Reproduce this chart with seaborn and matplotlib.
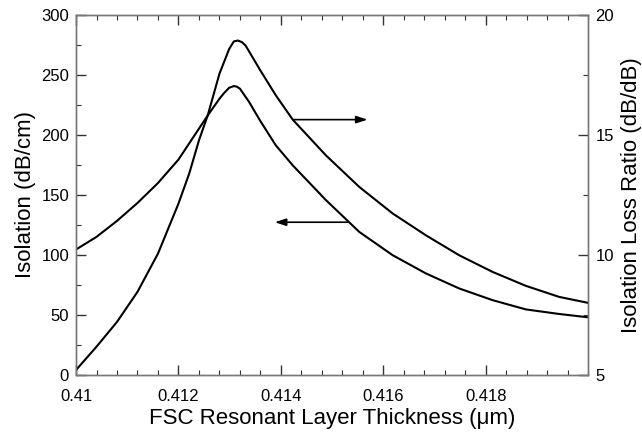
import matplotlib
matplotlib.use("Agg")
import matplotlib.pyplot as plt
import seaborn as sns
import pandas as pd
from matplotlib.ticker import FixedLocator, MultipleLocator

# ---- data ----
iso_x = [0.4100, 0.4104, 0.4108, 0.4112, 0.4116, 0.4120, 0.4124, 0.41257,
         0.4128, 0.41289, 0.41299, 0.41308, 0.41314, 0.4132, 0.41338, 0.41359,
         0.4139, 0.41423, 0.41488, 0.41553, 0.41618, 0.41683, 0.41748, 0.41813,
         0.41878, 0.41943, 0.4200]
iso_y = [104.6, 115.1, 128.4, 143.3, 159.9, 179.4, 205.1, 216.0,
         230.0, 234.7, 239.1, 240.5, 240.0, 238.3, 227.2, 212.0,
         191.2, 174.6, 145.6, 119.2, 99.9, 84.7, 72.2, 62.5,
         54.8, 51.0, 48.2]

ratio_x = [0.4100, 0.4104, 0.4108, 0.4112, 0.4116, 0.4120, 0.41221, 0.4124,
           0.41257, 0.4128, 0.41299, 0.41308, 0.41316, 0.41324, 0.41331, 0.4136,
           0.4139, 0.41423, 0.41488, 0.41553, 0.41618, 0.41683, 0.41748, 0.41813,
           0.41878, 0.41943, 0.4200]
ratio_y = [5.22, 6.19, 7.22, 8.47, 10.06, 12.14, 13.39, 14.77,
           15.80, 17.54, 18.57, 18.88, 18.92, 18.85, 18.71, 17.67,
           16.64, 15.63, 14.14, 12.83, 11.73, 10.82, 9.99, 9.30,
           8.72, 8.26, 8.01]

x_major = [0.410, 0.412, 0.414, 0.416, 0.418]
x_labels = ["0.41", "0.412", "0.414", "0.416", "0.418"]
left_ticks = [0, 50, 100, 150, 200, 250, 300]
right_ticks = [5, 10, 15, 20]

# annotation arrows (start x, end x, y)
arrow_right = (0.41423, 0.41569, 15.63)   # on right axis
arrow_left = (0.41530, 0.41388, 127.3)    # on left axis

xlabel = "FSC Resonant Layer Thickness (μm)"
ylabel_left = "Isolation (dB/cm)"
ylabel_right = "Isolation Loss Ratio (dB/dB)"

# ---- plotting ----
sns.set_theme(style="ticks")
plt.rcParams["font.family"] = ["Liberation Sans", "DejaVu Sans"]
plt.rcParams["text.color"] = "black"
plt.rcParams["axes.labelcolor"] = "black"
plt.rcParams["xtick.labelcolor"] = "black"
plt.rcParams["ytick.labelcolor"] = "black"

fig = plt.figure(figsize=(6.42, 4.36), dpi=100)
ax = fig.add_axes([0.1184, 0.1392, 0.9164 - 0.1184, 0.9667 - 0.1392])
ax2 = ax.twinx()

df_iso = pd.DataFrame({"x": iso_x, "y": iso_y})
df_ratio = pd.DataFrame({"x": ratio_x, "y": ratio_y})
sns.lineplot(data=df_iso, x="x", y="y", ax=ax, color="black", linewidth=1.5)
sns.lineplot(data=df_ratio, x="x", y="y", ax=ax2, color="black", linewidth=1.5)

ax.set_xlim(0.41, 0.42)
ax.set_ylim(0, 300)
ax2.set_ylim(5, 20)

ax.xaxis.set_major_locator(FixedLocator(x_major))
ax.set_xticklabels(x_labels)
ax.xaxis.set_minor_locator(MultipleLocator(0.0004))
ax.yaxis.set_major_locator(FixedLocator(left_ticks))
ax.yaxis.set_minor_locator(MultipleLocator(25))
ax2.yaxis.set_major_locator(FixedLocator(right_ticks))
ax2.yaxis.set_minor_locator(MultipleLocator(2.5))

fs_tick = 12
ax.tick_params(axis="x", which="both", direction="in", top=True, bottom=True,
               labelsize=fs_tick, color="#333333", pad=10)
ax.tick_params(axis="y", which="both", direction="in", left=True, right=False,
               labelsize=fs_tick, color="#333333", pad=5)
ax2.tick_params(axis="y", which="both", direction="in", right=True, left=False,
                labelsize=fs_tick, color="#333333", pad=5)
for a in (ax, ax2):
    a.tick_params(which="major", length=7, width=1)
    a.tick_params(which="minor", length=3.6, width=0.8)
    for s in a.spines.values():
        s.set_visible(True)
        s.set_color("#777777")
        s.set_linewidth(1.0)

ax.set_xlabel(xlabel, fontsize=16, labelpad=3)
ax.set_ylabel(ylabel_left, fontsize=16, labelpad=4)
ax2.set_ylabel(ylabel_right, fontsize=16, labelpad=5)

arrowprops = dict(arrowstyle="-|>,head_length=0.55,head_width=0.18",
                  color="black", lw=1.2, shrinkA=0, shrinkB=0)
ax2.annotate("", xy=(arrow_right[1], arrow_right[2]),
             xytext=(arrow_right[0], arrow_right[2]), arrowprops=arrowprops)
ax.annotate("", xy=(arrow_left[1], arrow_left[2]),
            xytext=(arrow_left[0], arrow_left[2]), arrowprops=arrowprops)

fig.savefig("out.png", dpi=100)
